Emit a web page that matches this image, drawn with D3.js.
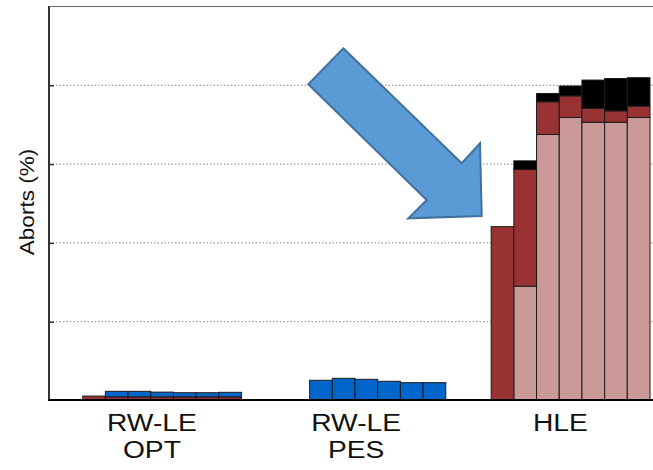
<!DOCTYPE html>
<html>
<head>
<meta charset="utf-8">
<script src="https://cdn.jsdelivr.net/npm/d3@7"></script>
<style>
  body { margin: 0; background: #fff; }
  svg { display: block; font-family: "Liberation Sans", Arial, sans-serif; }
</style>
</head>
<body>
<script>
// canvas size
var w = 653;
var h = 470;

// group labels (two lines each)
var groups = [["RW-LE", "OPT"], ["RW-LE", "PES"], ["HLE"]];

// per-bar values, 7 bars per group (OPT, PES, HLE), in %
var pinkVals  = [0, 0, 0, 0, 0, 0, 0,
                 0, 0, 0, 0, 0, 0, 0,
                 0, 28.9, 67.4, 71.7, 70.5, 70.5, 71.7];
var redVals   = [1.0, 0.8, 0.8, 0.8, 0.8, 0.8, 0.8,
                 0, 0, 0, 0, 0, 0, 0,
                 44.0, 29.6, 8.3, 5.5, 3.5, 2.9, 2.9];
var blueVals  = [0, 1.4, 1.4, 1.2, 1.05, 1.05, 1.15,
                 0, 5.0, 5.5, 5.25, 4.75, 4.4, 4.4,
                 0, 0, 0, 0, 0, 0, 0];
var blackVals = [0, 0, 0, 0, 0, 0, 0,
                 0, 0, 0, 0, 0, 0, 0,
                 0, 2.2, 2.1, 2.5, 7.2, 8.2, 7.2];

var yTicks = [0, 20, 40, 60, 80, 100];

var keys = ["pink", "red", "blue", "black"];
var color = d3.scaleOrdinal()
    .domain(keys)
    .range(["#cc9999", "#993333", "#0066cc", "#000000"]);

// build rows for the stack
var rows = pinkVals.map(function(v, i) {
    return {
        idx: i,
        group: Math.floor(i / 7),
        bar: i % 7,
        pink: v,
        red: redVals[i],
        blue: blueVals[i],
        black: blackVals[i]
    };
});

var series = d3.stack().keys(keys)(rows);

// plot area (note: "top" is reserved on window, so plotTop)
var plotLeft = 49, plotTop = 6, plotBottom = 400, plotRight = 700;

// slots: 7 bars then 2 empty slots, per group
var x = d3.scaleLinear()
    .domain([0, 25])
    .range([82.7, 650]);
var slotW = x(1) - x(0);
function slot(d) { return d.group * 9 + d.bar; }

var y = d3.scaleLinear()
    .domain([0, 100])
    .range([plotBottom, plotTop]);

var svg = d3.select("body")
    .append("svg")
    .attr("width", w)
    .attr("height", h);

var inner = yTicks.filter(function(t) { return t > 0 && t < 100; });

// dotted grid lines
svg.selectAll("line.grid")
    .data(inner)
    .enter()
    .append("line")
    .attr("class", "grid")
    .attr("x1", plotLeft)
    .attr("x2", plotRight)
    .attr("y1", function(d) { return y(d) + 0.5; })
    .attr("y2", function(d) { return y(d) + 0.5; })
    .attr("stroke", "#888")
    .attr("stroke-width", 1)
    .attr("stroke-dasharray", "1.5,2");

// top border
svg.append("line")
    .attr("x1", plotLeft).attr("x2", plotRight)
    .attr("y1", y(100) + 0.5).attr("y2", y(100) + 0.5)
    .attr("stroke", "#666")
    .attr("stroke-width", 1.2);

// stacked bars
svg.selectAll("g.layer")
    .data(series)
    .enter()
    .append("g")
    .attr("class", "layer")
    .attr("fill", function(d) { return color(d.key); })
    .selectAll("rect")
    .data(function(d) { return d.filter(function(s) { return s[1] - s[0] > 0; }); })
    .enter()
    .append("rect")
    .attr("x", function(d) { return x(slot(d.data)); })
    .attr("width", slotW)
    .attr("y", function(d) { return y(d[1]); })
    .attr("height", function(d) { return y(d[0]) - y(d[1]); })
    .attr("stroke", "#1a1a1a")
    .attr("stroke-width", 1);

// left axis with short inside ticks
var yAxis = d3.axisRight(y)
    .tickValues(inner)
    .tickSize(5)
    .tickFormat("");

svg.append("g")
    .attr("transform", "translate(" + plotLeft + ",0.5)")
    .call(yAxis)
    .call(function(g) {
        g.select(".domain").remove();
        g.selectAll(".tick line").attr("stroke", "#333").attr("stroke-width", 1.5);
    });

svg.append("line")
    .attr("x1", plotLeft).attr("x2", plotLeft)
    .attr("y1", plotTop).attr("y2", plotBottom + 1)
    .attr("stroke", "#333")
    .attr("stroke-width", 2);

// bottom axis line
svg.append("line")
    .attr("x1", plotLeft - 1).attr("x2", plotRight)
    .attr("y1", plotBottom).attr("y2", plotBottom)
    .attr("stroke", "#000")
    .attr("stroke-width", 2);

// group labels (glyphs a bit wide in the original)
groups.forEach(function(lines, g) {
    lines.forEach(function(t, i) {
        svg.append("text")
            .attr("transform", "translate(" + x(g * 9 + 3.05) + "," + (430.5 + i * 27.5) + ") scale(1.2,1)")
            .attr("text-anchor", "middle")
            .attr("font-size", 23.5)
            .attr("fill", "#111")
            .text(t);
    });
});

// y axis title
svg.append("text")
    .attr("transform", "translate(33.5,202) rotate(-90) scale(1.1,1)")
    .attr("text-anchor", "middle")
    .attr("font-size", 20.5)
    .attr("fill", "#111")
    .text("Aborts (%)");

// annotation arrow
var arrowPts = [[343.3, 48.3], [461.7, 163.3], [480, 143.3], [481.7, 216],
                [408.3, 218.3], [426.7, 200], [308.3, 84.3]];
svg.append("polygon")
    .attr("points", arrowPts.map(function(p) { return p.join(","); }).join(" "))
    .attr("fill", "#5b9bd5")
    .attr("stroke", "#41719c")
    .attr("stroke-width", 2)
    .attr("stroke-linejoin", "miter");
</script>
</body>
</html>
